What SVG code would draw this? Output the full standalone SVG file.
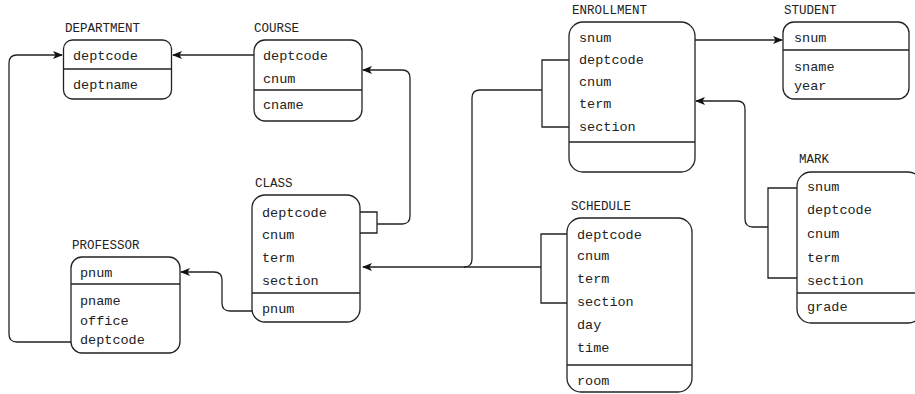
<svg xmlns="http://www.w3.org/2000/svg" width="915" height="394" viewBox="0 0 915 394">
<defs>
<marker id="ah" markerWidth="10" markerHeight="10" viewBox="0 0 10 10" refX="9" refY="5" orient="auto" markerUnits="userSpaceOnUse">
<path d="M0,1 L10,5 L0,9 L2.5,5 Z" fill="#111"/>
</marker>
<style>
.box{fill:#fff;stroke:#222;stroke-width:1.3}
.div{stroke:#222;stroke-width:1.3}
.c{fill:none;stroke:#222;stroke-width:1.3}
.t{font-family:"Liberation Mono","Courier New",monospace;font-size:13.5px;fill:#222}
.h{font-family:"Liberation Mono","Courier New",monospace;font-size:12.5px;fill:#222}
</style>
</defs>
<rect width="915" height="394" fill="#fff"/>
<g id="connectors">
<line class="c" x1="254" y1="55" x2="173" y2="55" marker-end="url(#ah)"/>
<path class="c" d="M71,342 H17 Q9,342 9,334 V63 Q9,55 17,55 H62" marker-end="url(#ah)"/>
<path class="c" d="M360,212 H377 V233 H360 M377,224 H402 Q410,224 410,216 V78 Q410,70 402,70 H363" marker-end="url(#ah)"/>
<path class="c" d="M252,311 H230 Q222,311 222,303 V280 Q222,272 214,272 H181" marker-end="url(#ah)"/>
<path class="c" d="M569,60 H542 V127 H569 M542,90 H480 Q472,90 472,98 V259 Q472,267 464,267"/>
<path class="c" d="M567,234 H541 V303 H567 M541,267 H363" marker-end="url(#ah)"/>
<line class="c" x1="695" y1="40" x2="782" y2="40" marker-end="url(#ah)"/>
<path class="c" d="M797,188 H768 V278 H797 M768,227 H753 Q745,227 745,219 V109 Q745,101 737,101 H696" marker-end="url(#ah)"/>
</g>
<g id="department">
<text class="h" x="65" y="32">DEPARTMENT</text>
<rect class="box" x="63.5" y="40" width="108" height="59" rx="9"/>
<line class="div" x1="63.5" y1="69" x2="171.5" y2="69"/>
<text class="t" x="73" y="60">deptcode</text>
<text class="t" x="73" y="89">deptname</text>
</g>
<g id="course">
<text class="h" x="254" y="32">COURSE</text>
<rect class="box" x="254" y="40" width="108" height="81" rx="11"/>
<line class="div" x1="254" y1="90" x2="362" y2="90"/>
<text class="t" x="263" y="60">deptcode</text>
<text class="t" x="263" y="83">cnum</text>
<text class="t" x="263" y="109">cname</text>
</g>
<g id="class">
<text class="h" x="255" y="187">CLASS</text>
<rect class="box" x="252" y="195" width="108" height="127" rx="13"/>
<line class="div" x1="252" y1="293" x2="360" y2="293"/>
<text class="t" x="262" y="217">deptcode</text>
<text class="t" x="262" y="239">cnum</text>
<text class="t" x="262" y="262">term</text>
<text class="t" x="262" y="285">section</text>
<text class="t" x="262" y="313">pnum</text>
</g>
<g id="professor">
<text class="h" x="72" y="249">PROFESSOR</text>
<rect class="box" x="71" y="257" width="109" height="96" rx="11"/>
<line class="div" x1="71" y1="284" x2="180" y2="284"/>
<text class="t" x="80" y="277">pnum</text>
<text class="t" x="80" y="305">pname</text>
<text class="t" x="80" y="325">office</text>
<text class="t" x="80" y="344">deptcode</text>
</g>
<g id="enrollment">
<text class="h" x="572" y="14">ENROLLMENT</text>
<rect class="box" x="569" y="22" width="126" height="150" rx="14"/>
<line class="div" x1="569" y1="142" x2="695" y2="142"/>
<text class="t" x="579" y="42">snum</text>
<text class="t" x="579" y="64">deptcode</text>
<text class="t" x="579" y="86">cnum</text>
<text class="t" x="579" y="108">term</text>
<text class="t" x="579" y="131">section</text>
</g>
<g id="student">
<text class="h" x="784" y="14">STUDENT</text>
<rect class="box" x="783" y="22" width="126" height="77" rx="11"/>
<line class="div" x1="783" y1="50" x2="909" y2="50"/>
<text class="t" x="794" y="42">snum</text>
<text class="t" x="794" y="71">sname</text>
<text class="t" x="794" y="90">year</text>
</g>
<g id="schedule">
<text class="h" x="571" y="210">SCHEDULE</text>
<rect class="box" x="567" y="218" width="125" height="174" rx="14"/>
<line class="div" x1="567" y1="365" x2="692" y2="365"/>
<text class="t" x="577" y="239">deptcode</text>
<text class="t" x="577" y="260">cnum</text>
<text class="t" x="577" y="283">term</text>
<text class="t" x="577" y="306">section</text>
<text class="t" x="577" y="329">day</text>
<text class="t" x="577" y="352">time</text>
<text class="t" x="577" y="385">room</text>
</g>
<g id="mark">
<text class="h" x="799" y="163">MARK</text>
<rect class="box" x="797" y="172" width="125" height="151" rx="14"/>
<line class="div" x1="797" y1="293" x2="922" y2="293"/>
<text class="t" x="807" y="191">snum</text>
<text class="t" x="807" y="214">deptcode</text>
<text class="t" x="807" y="238">cnum</text>
<text class="t" x="807" y="262">term</text>
<text class="t" x="807" y="285">section</text>
<text class="t" x="807" y="311">grade</text>
</g>
</svg>
